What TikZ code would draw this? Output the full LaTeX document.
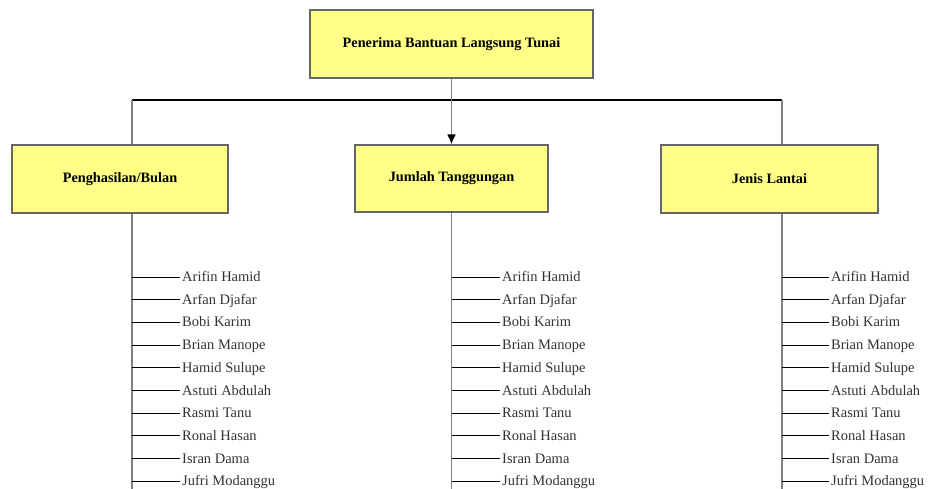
\documentclass[tikz,border=0pt]{standalone}
\usepackage{fontspec}
\setmainfont{Liberation Serif}
\usetikzlibrary{arrows.meta}
\definecolor{boxyellow}{HTML}{FFFF88}
\definecolor{boxline}{HTML}{666666}
\definecolor{trunkgray}{HTML}{808080}

\begin{document}
\begin{tikzpicture}[x=1pt,y=-1pt,
    kotak/.style={draw=boxline,fill=boxyellow,line width=1.2pt,
      font=\fontsize{14.3}{16}\selectfont\bfseries,inner sep=0pt},
    nama/.style={anchor=west,inner sep=2pt,text height=11pt,text depth=2pt,
      font=\fontsize{14.5}{16}\selectfont,text=black!80},
    batang/.style={trunkgray,line width=1.8pt}]
  \useasboundingbox[fill=white] (0,0) rectangle (928,488);

  \node[kotak,minimum width=283pt,minimum height=68pt] (root) at (451.5,44) {Penerima Bantuan Langsung Tunai};
  \node[kotak,minimum width=216pt,minimum height=68pt] (hasil) at (120,179) {Penghasilan/Bulan};
  \node[kotak,minimum width=193pt,minimum height=67pt] (tanggung) at (451.5,178.5) {Jumlah Tanggungan};
  \node[kotak,minimum width=217pt,minimum height=68pt] (lantai) at (769.5,179) {Jenis Lantai};

  \coordinate (kiri) at (132,100);
  \coordinate (kanan) at (782,100);

  % penghubung atas
  \draw[black,line width=1.2pt] (kiri) -- (kanan);
  \draw[batang,-{Latex[black,length=10pt,width=9pt]}] (root.south) -- (tanggung.north);
  \draw[batang] (kiri) -- (kiri |- hasil.north);
  \draw[batang] (kanan) -- (kanan |- lantai.north);

  % batang bawah
  \draw[batang] (kiri |- hasil.south) -- (132,490);
  \draw[batang] (tanggung.south) -- (451.5,490);
  \draw[batang] (kanan |- lantai.south) -- (782,490);

  \foreach \n [count=\i] in {Arifin Hamid,Arfan Djafar,Bobi Karim,Brian Manope,Hamid Sulupe,
      Astuti Abdulah,Rasmi Tanu,Ronal Hasan,Isran Dama,Jufri Modanggu} {
    \pgfmathsetmacro{\yy}{277+22.7*(\i-1)}
    \node[nama] (a\i) at (180,\yy) {\n};
    \node[nama] (b\i) at (500,\yy) {\n};
    \node[nama] (c\i) at (829,\yy) {\n};
    \draw[black,line width=1pt] (132,\yy) -- (a\i.west);
    \draw[black,line width=1pt] (451.5,\yy) -- (b\i.west);
    \draw[black,line width=1pt] (782,\yy) -- (c\i.west);
  }
\end{tikzpicture}
\end{document}
